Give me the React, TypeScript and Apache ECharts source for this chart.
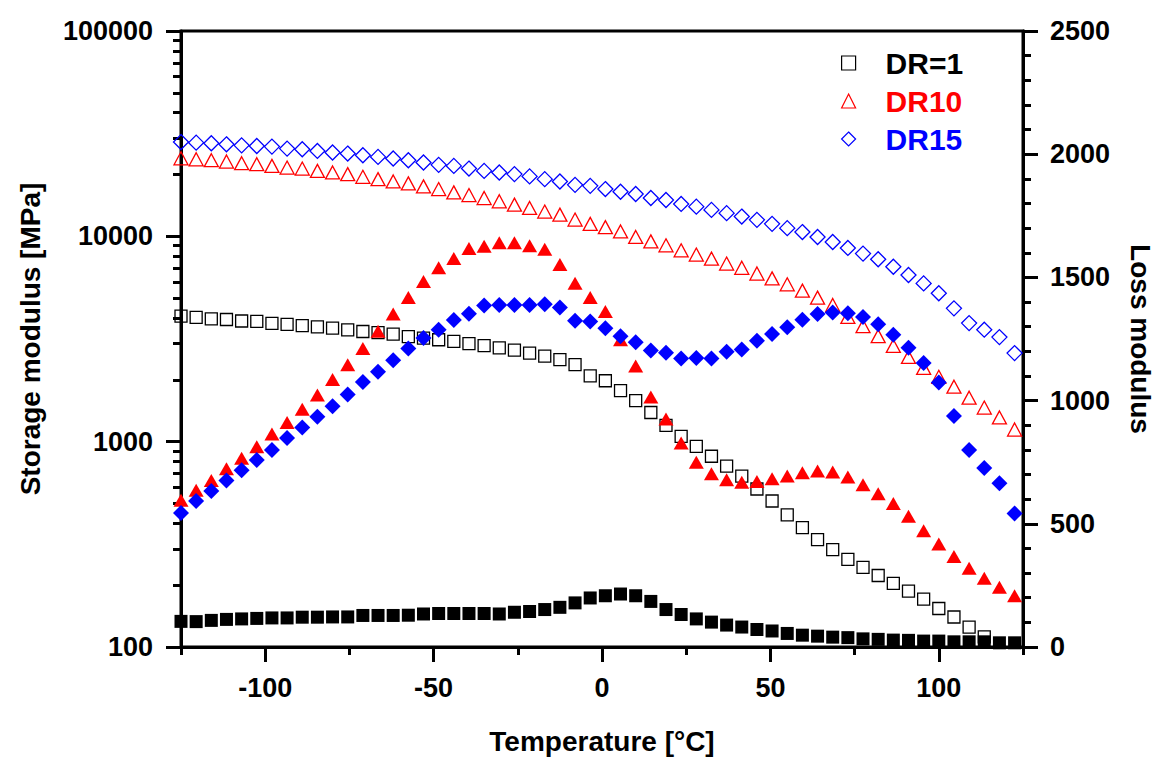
import React, { useEffect, useRef } from "react";
import * as echarts from "echarts";

// Temperature [°C] of each measurement point
const temperature = [
  -125, -120.5, -116, -111.5, -107, -102.5, -98, -93.5, -89, -84.5, -80, -75.5, -71, -66.5,
  -62, -57.5, -53, -48.5, -44, -39.5, -35, -30.5, -26, -21.5, -17, -12.5, -8, -3.5, 1, 5.5,
  10, 14.5, 19, 23.5, 28, 32.5, 37, 41.5, 46, 50.5, 55, 59.5, 64, 68.5, 73, 77.5, 82, 86.5,
  91, 95.5, 100, 104.5, 109, 113.5, 118, 122.5,
];

// Storage modulus [MPa] (left, log axis) - open markers
const storageDR1 = [
  4085, 4030, 3960, 3935, 3870, 3850, 3770, 3730, 3670, 3620, 3570, 3500, 3440, 3400, 3340,
  3250, 3190, 3135, 3080, 3000, 2935, 2860, 2790, 2700, 2610, 2510, 2370, 2090, 1980, 1771,
  1585, 1387, 1200, 1062, 949, 849, 760, 679, 588, 514, 440, 381, 333, 298, 267, 244, 223,
  204, 187, 171, 154, 140, 125, 112,
];
const storageDR10 = [
  23990, 23730, 23480, 23140, 22700, 22450, 22030, 21630, 21380, 20830, 20460, 20090, 19490,
  18990, 18500, 18110, 17510, 16990, 16370, 15880, 15370, 14820, 14270, 13750, 13200, 12760,
  12070, 11500, 11090, 10560, 9930, 9450, 9040, 8550, 8150, 7790, 7370, 7030, 6590, 6240,
  5840, 5440, 5030, 4630, 4050, 3650, 3265, 2924, 2587, 2288, 2070, 1853, 1638, 1466, 1312,
  1146,
];
const storageDR15 = [
  28780, 28590, 28400, 28060, 27740, 27540, 27350, 26740, 26540, 26050, 25590, 25300, 24830,
  24370, 23930, 23480, 22880, 22290, 22030, 21380, 20830, 20460, 20090, 19580, 18990, 18500,
  17810, 17610, 16990, 16490, 16080, 15370, 15030, 14380, 13950, 13450, 12970, 12480, 12030,
  11500, 10960, 10490, 9930, 9380, 8780, 8240, 7730, 7110, 6480, 5900, 5280, 4460, 3780,
  3510, 3230, 2700,
];

// Loss modulus (right, linear axis) - filled markers
const lossDR1 = [
  104, 103, 108, 112, 114, 116, 118, 118, 121, 121, 122, 122, 128, 128, 128, 129, 134, 136,
  136, 136, 136, 134, 141, 144, 152, 161, 179, 199, 208, 215, 208, 185, 152, 132, 114, 101,
  89, 81, 71, 65, 55, 48, 44, 40, 38, 33, 31, 28, 27, 24, 24, 21, 21, 21, 17, 17,
];
const lossDR10 = [
  596, 636, 676, 723, 766, 813, 864, 911, 965, 1023, 1086, 1146, 1211, 1281, 1351, 1418,
  1483, 1539, 1577, 1617, 1626, 1641, 1641, 1628, 1614, 1552, 1476, 1418, 1362, 1247, 1140,
  1015, 925, 828, 750, 703, 679, 669, 672, 683, 694, 707, 714, 710, 690, 658, 622, 582, 531,
  472, 418, 367, 320, 279, 242, 208,
];
const lossDR15 = [
  544, 593, 633, 676, 717, 759, 800, 848, 891, 934, 977, 1025, 1075, 1117, 1164, 1211, 1254,
  1288, 1327, 1352, 1386, 1388, 1388, 1388, 1391, 1378, 1324, 1321, 1294, 1261, 1237, 1203,
  1194, 1171, 1173, 1171, 1198, 1207, 1243, 1270, 1298, 1328, 1351, 1358, 1355, 1339, 1310,
  1267, 1214, 1153, 1073, 938, 800, 726, 665, 542,
];

const xMajorTicks = [-100, -50, 0, 50, 100];
const xMinorTicks = [-125, -75, -25, 25, 75, 125];

const FONT = '"Liberation Sans", Arial, Helvetica, sans-serif';

export default function App() {
  const ref = useRef<HTMLDivElement>(null);

  useEffect(() => {
    const chart = echarts.init(ref.current!, null, { renderer: "svg" });
    const pairs = (vals: number[]) => vals.map((v, i) => [temperature[i], v]);

    const logMinor: number[] = [];
    [100, 1000, 10000].forEach((d) => {
      for (let k = 2; k <= 9; k++) logMinor.push(Math.log10(k * d));
    });

    const lineStyle = { color: "#000", width: 3 };
    const labelStyle = {
      color: "#000",
      fontFamily: FONT,
      fontWeight: "bold" as const,
      fontSize: 27,
    };
    const nameStyle = {
      color: "#000",
      fontFamily: FONT,
      fontWeight: "bold" as const,
      fontSize: 28,
    };
    const plain = (v: number) => String(Math.round(v));

    const openSeries = (name: string, vals: number[], symbol: string, size: any, color: string) => ({
      name,
      type: "scatter",
      data: pairs(vals),
      symbol,
      symbolSize: size,
      xAxisIndex: 0,
      yAxisIndex: 0,
      itemStyle: {
        color: "rgba(255,255,255,0)",
        borderColor: color,
        borderWidth: 1.3,
        opacity: 1,
      },
      emphasis: { disabled: true },
    });
    const filledSeries = (name: string, vals: number[], symbol: string, size: any, color: string) => ({
      name,
      type: "scatter",
      data: pairs(vals),
      symbol,
      symbolSize: size,
      xAxisIndex: 0,
      yAxisIndex: 1,
      itemStyle: { color, borderWidth: 0, opacity: 1 },
      emphasis: { disabled: true },
    });

    chart.setOption({
      animation: false,
      backgroundColor: "#fff",
      grid: {
        left: 181,
        right: 139,
        top: 31,
        bottom: 109,
        show: true,
        borderColor: "#000",
        borderWidth: 3,
        backgroundColor: "transparent",
      },
      legend: {
        data: [
          { name: "DR=1", textStyle: { color: "#000" } },
          { name: "DR10", textStyle: { color: "#ff0000" } },
          { name: "DR15", textStyle: { color: "#0000ff" } },
        ],
        orient: "vertical",
        left: 841,
        top: 48,
        padding: 0,
        itemWidth: 14,
        itemHeight: 14,
        itemGap: 8,
        selectedMode: false,
        itemStyle: { opacity: 1, borderWidth: 1.2 },
        textStyle: {
          fontFamily: FONT,
          fontWeight: "bold",
          fontSize: 30,
          padding: [0, 0, 0, 25],
        },
      },
      xAxis: [
        {
          type: "value",
          min: -125,
          max: 125,
          position: "bottom",
          axisLine: { show: true, onZero: false, lineStyle },
          axisTick: { show: true, customValues: xMajorTicks, length: 15, lineStyle },
          axisLabel: { show: true, customValues: xMajorTicks, margin: 27, formatter: plain, ...labelStyle },
          splitLine: { show: false },
          name: "Temperature [°C]",
          nameLocation: "middle",
          nameGap: 80,
          nameTextStyle: nameStyle,
        },
        {
          type: "value",
          min: -125,
          max: 125,
          position: "bottom",
          axisLine: { show: false, onZero: false },
          axisTick: { show: true, customValues: xMinorTicks, length: 8, lineStyle },
          axisLabel: { show: false },
          splitLine: { show: false },
        },
      ],
      yAxis: [
        {
          type: "log",
          logBase: 10,
          min: 100,
          max: 100000,
          position: "left",
          axisLine: { show: true, onZero: false, lineStyle },
          axisTick: { show: true, length: 15, lineStyle },
          axisLabel: { margin: 28, formatter: plain, ...labelStyle },
          splitLine: { show: false },
          name: "Storage modulus [MPa]",
          nameLocation: "middle",
          nameGap: 137,
          nameTextStyle: nameStyle,
        },
        {
          type: "value",
          min: 0,
          max: 2500,
          interval: 500,
          position: "right",
          axisLine: { show: true, onZero: false, lineStyle },
          axisTick: { show: true, length: 15, lineStyle },
          minorTick: { show: true, splitNumber: 5, length: 8, lineStyle },
          axisLabel: { margin: 27, formatter: plain, ...labelStyle },
          splitLine: { show: false },
          minorSplitLine: { show: false },
          name: "Loss modulus",
          nameLocation: "middle",
          nameGap: 103,
          nameRotate: -90,
          nameTextStyle: nameStyle,
        },
        {
          type: "value",
          min: 2,
          max: 5,
          position: "left",
          axisLine: { show: false, onZero: false },
          axisTick: { show: true, customValues: logMinor, length: 8, lineStyle },
          axisLabel: { show: false },
          splitLine: { show: false },
        },
      ],
      series: [
        openSeries("DR=1", storageDR1, "rect", 12, "#000"),
        openSeries("DR10", storageDR10, "triangle", [14, 13], "#ff0000"),
        openSeries("DR15", storageDR15, "diamond", 15, "#0000ff"),
        filledSeries("DR=1 loss", lossDR1, "rect", 13, "#000"),
        filledSeries("DR10 loss", lossDR10, "triangle", [15, 13], "#ff0000"),
        filledSeries("DR15 loss", lossDR15, "diamond", 16, "#0000ff"),
      ],
    });

    return () => chart.dispose();
  }, []);

  return (
    <div
      ref={ref}
      style={{ position: "absolute", left: 0, top: 0, width: 1162, height: 760, background: "#fff" }}
    />
  );
}
